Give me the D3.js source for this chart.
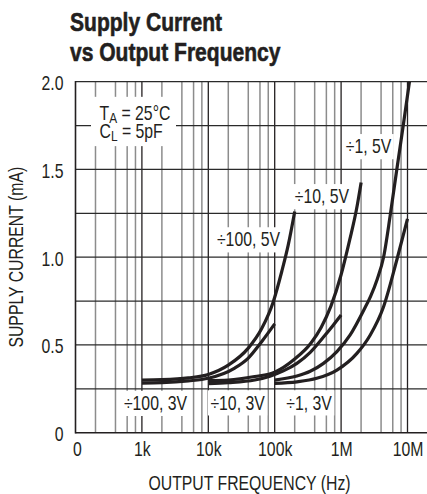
<!DOCTYPE html>
<html>
<head>
<meta charset="utf-8">
<script src="https://cdn.jsdelivr.net/npm/d3@7"></script>
<style>
  html, body { margin: 0; padding: 0; background: #fff; }
  svg { display: block; }
  text { font-family: "Liberation Sans", Arial, Helvetica, sans-serif; fill: #231f20; }
</style>
</head>
<body>
<svg id="chart" width="427" height="494"></svg>
<script>
// ---------- DATA (frequency in Hz, supply current in mA) ----------
const xTickValues = [1e2, 1e3, 1e4, 1e5, 1e6, 1e7];
const xTickLabels = ["0", "1k", "10k", "100k", "1M", "10M"];
const yTickValues = [0, 0.5, 1.0, 1.5, 2.0];
const yTickLabels = ["0", "0.5", "1.0", "1.5", "2.0"];
const yGridValues = [0.25, 0.5, 0.75, 1.0, 1.25, 1.5, 1.75, 2.0];
const minorMultipliers = [2, 4, 6, 8];

const seriesNames = ["÷100, 5V", "÷100, 3V", "÷10, 5V", "÷10, 3V", "÷1, 5V", "÷1, 3V"];

const div100_5V_freq = [1e3, 2e3, 5e3, 1e4, 2e4, 4e4, 6.4e4, 9.5e4, 1.28e5, 1.6e5, 2e5];
const div100_5V_mA   = [0.300, 0.302, 0.312, 0.332, 0.385, 0.482, 0.595, 0.745, 0.920, 1.07, 1.26];

const div100_3V_freq = [1e3, 2e3, 5e3, 1e4, 2.5e4, 4e4, 6.4e4, 1e5];
const div100_3V_mA   = [0.283, 0.285, 0.295, 0.310, 0.368, 0.425, 0.520, 0.620];

const div10_5V_freq = [1e4, 2e4, 5e4, 1e5, 2e5, 3.5e5, 5e5, 7e5, 1e6, 1.35e6, 1.7e6, 2e6];
const div10_5V_mA   = [0.297, 0.300, 0.320, 0.345, 0.420, 0.510, 0.600, 0.720, 0.900, 1.10, 1.27, 1.425];

const div10_3V_freq = [1e4, 2e4, 5e4, 8.5e4, 1.35e5, 2.16e5, 3.43e5, 5.43e5, 7.5e5, 1e6];
const div10_3V_mA   = [0.280, 0.285, 0.300, 0.322, 0.352, 0.395, 0.458, 0.545, 0.610, 0.671];

const div1_5V_freq = [1e5, 2.16e5, 3.43e5, 5.43e5, 8.65e5, 1.37e6, 2.2e6, 2.8e6, 3.5e6, 4.36e6, 5.5e6, 6.9e6, 8.7e6, 1.07e7];
const div1_5V_mA   = [0.300, 0.323, 0.350, 0.395, 0.462, 0.557, 0.699, 0.780, 0.875, 1.000, 1.24, 1.50, 1.76, 2.0];

const div1_3V_freq = [1e5, 2.16e5, 4.3e5, 8.65e5, 1.73e6, 2.75e6, 4.36e6, 6.9e6, 1e7];
const div1_3V_mA   = [0.281, 0.290, 0.310, 0.357, 0.452, 0.557, 0.718, 0.984, 1.218];

// ---------- LAYOUT ----------
const W = 427, H = 494;
const plot = { left: 75.5, right: 407.5, top: 81.7, bottom: 432.7 };
const SX = 0.79;      // horizontal condensing of regular text
const SXB = 0.81;     // horizontal condensing of bold title

const svg = d3.select("#chart");
const x = d3.scaleLog().domain([1e2, 1e7]).range([plot.left, plot.right]);
const y = d3.scaleLinear().domain([0, 2]).range([plot.bottom, plot.top]);

const series = [
  { name: seriesNames[0], f: div100_5V_freq, v: div100_5V_mA },
  { name: seriesNames[1], f: div100_3V_freq, v: div100_3V_mA },
  { name: seriesNames[2], f: div10_5V_freq,  v: div10_5V_mA },
  { name: seriesNames[3], f: div10_3V_freq,  v: div10_3V_mA },
  { name: seriesNames[4], f: div1_5V_freq,   v: div1_5V_mA },
  { name: seriesNames[5], f: div1_3V_freq,   v: div1_3V_mA }
];

// label anchors (data units) for the annotations
const labelAnchors = [
  { text: seriesNames[0], f: 4.03e4, v: 1.061 },
  { text: seriesNames[1], f: 1.60e3, v: 0.129 },
  { text: seriesNames[2], f: 5.15e5, v: 1.307 },
  { text: seriesNames[3], f: 2.76e4, v: 0.132 },
  { text: seriesNames[4], f: 2.59e6, v: 1.592 },
  { text: seriesNames[5], f: 3.29e5, v: 0.132 }
];

function addText(parent, px, py, str, o = {}) {
  const sx = o.sx || SX;
  const g = parent.append("g")
    .attr("transform", `translate(${px},${py}) rotate(${o.rotate || 0}) scale(${sx},1)`);
  const t = g.append("text")
    .attr("text-anchor", o.anchor || "start")
    .attr("font-size", o.size || 20)
    .attr("font-weight", o.weight || "normal");
  if (str !== null) t.text(str);
  return { g, t, sx };
}

// ---------- GRID ----------
const grid = svg.append("g");
const minors = [];
xTickValues.slice(0, -1).forEach(d => minorMultipliers.forEach(m => minors.push(d * m)));
grid.selectAll("line.minor").data(minors).join("line")
  .attr("x1", d => x(d)).attr("x2", d => x(d))
  .attr("y1", plot.top).attr("y2", plot.bottom)
  .attr("stroke", "#8c8c8c").attr("stroke-width", 1.5);
grid.selectAll("line.major").data(xTickValues.slice(1)).join("line")
  .attr("x1", d => x(d)).attr("x2", d => x(d))
  .attr("y1", plot.top).attr("y2", plot.bottom)
  .attr("stroke", "#231f20").attr("stroke-width", 1.3);
grid.selectAll("line.h").data(yGridValues).join("line")
  .attr("x1", plot.left).attr("x2", W)
  .attr("y1", d => y(d)).attr("y2", d => y(d))
  .attr("stroke", "#2a2a2a").attr("stroke-width", 1.3);
grid.append("line").attr("x1", plot.left).attr("x2", plot.left)
  .attr("y1", plot.top - 0.6).attr("y2", plot.bottom + 0.8)
  .attr("stroke", "#231f20").attr("stroke-width", 1.6);
grid.append("line").attr("x1", plot.left).attr("x2", W)
  .attr("y1", plot.bottom).attr("y2", plot.bottom)
  .attr("stroke", "#231f20").attr("stroke-width", 1.6);

// ---------- CONDITIONS BOX ----------
const condBox = svg.append("g");
condBox.append("rect")
  .attr("x", 91).attr("y", y(1.781) - 23.3)
  .attr("width", 85).attr("height", 49.3).attr("fill", "#fff");
const c1 = addText(condBox, x(2.3e2), y(1.781), null);
c1.t.append("tspan").text("T");
c1.t.append("tspan").attr("font-size", 15).attr("dy", 3).text("A");
c1.t.append("tspan").attr("dy", -3).text(" = 25°C");
const c2 = addText(condBox, x(2.3e2), y(1.679), null);
c2.t.append("tspan").text("C");
c2.t.append("tspan").attr("font-size", 15).attr("dy", 3).text("L");
c2.t.append("tspan").attr("dy", -3).text(" = 5pF");

// ---------- SERIES LABELS ----------
const labG = svg.append("g");
labelAnchors.forEach(l => {
  const lt = addText(labG, x(l.f), y(l.v), l.text, { anchor: "middle" });
  const bb = lt.t.node().getBBox();
  lt.g.insert("rect", "text").attr("fill", "#fff")
    .attr("x", bb.x - 2.5 / lt.sx).attr("y", bb.y - 1.5)
    .attr("width", bb.width + 5 / lt.sx).attr("height", bb.height + 3);
});

// ---------- CURVES ----------
const line = d3.line()
  .x(d => x(d[0])).y(d => y(d[1]))
  .curve(d3.curveMonotoneX);
svg.append("g").selectAll("path").data(series).join("path")
  .attr("d", s => line(s.f.map((f, i) => [f, s.v[i]])))
  .attr("fill", "none").attr("stroke", "#231f20")
  .attr("stroke-width", 3.2).attr("stroke-linecap", "butt");

// ---------- AXES ----------
const xAxis = svg.append("g").attr("transform", `translate(0,${plot.bottom})`)
  .call(d3.axisBottom(x).tickValues(xTickValues)
    .tickFormat((d, i) => xTickLabels[i]).tickSize(0).tickPadding(9.5));
xAxis.select(".domain").remove();
xAxis.selectAll("text").attr("font-size", 20)
  .style("font-family", '"Liberation Sans", Arial, sans-serif')
  .attr("fill", "#231f20")
  .attr("transform", `scale(${SX},1)`);
xAxis.selectAll(".tick").filter((d, i) => i === 0).select("text").attr("x", 1.5 / SX);

const yAxis = svg.append("g").attr("transform", `translate(${plot.left},0)`)
  .call(d3.axisLeft(y).tickValues(yTickValues)
    .tickFormat((d, i) => yTickLabels[i]).tickSize(0).tickPadding(12));
yAxis.select(".domain").remove();
yAxis.selectAll("text").attr("font-size", 20).attr("dy", "0.4em")
  .attr("x", -12 / SX)
  .style("font-family", '"Liberation Sans", Arial, sans-serif')
  .attr("fill", "#231f20")
  .attr("transform", `scale(${SX},1)`);

// axis titles
addText(svg, 249.5, 490, "OUTPUT FREQUENCY (Hz)", { anchor: "middle" });
addText(svg, 23, (plot.top + plot.bottom) / 2, "SUPPLY CURRENT (mA)", { anchor: "middle", rotate: -90 });

// ---------- TITLE ----------
addText(svg, 70, 31, "Supply Current", { size: 26, weight: "bold", sx: SXB })
  .t.attr("stroke", "#231f20").attr("stroke-width", 0.6);
addText(svg, 70, 61, "vs Output Frequency", { size: 26, weight: "bold", sx: SXB })
  .t.attr("stroke", "#231f20").attr("stroke-width", 0.6);
</script>
</body>
</html>
